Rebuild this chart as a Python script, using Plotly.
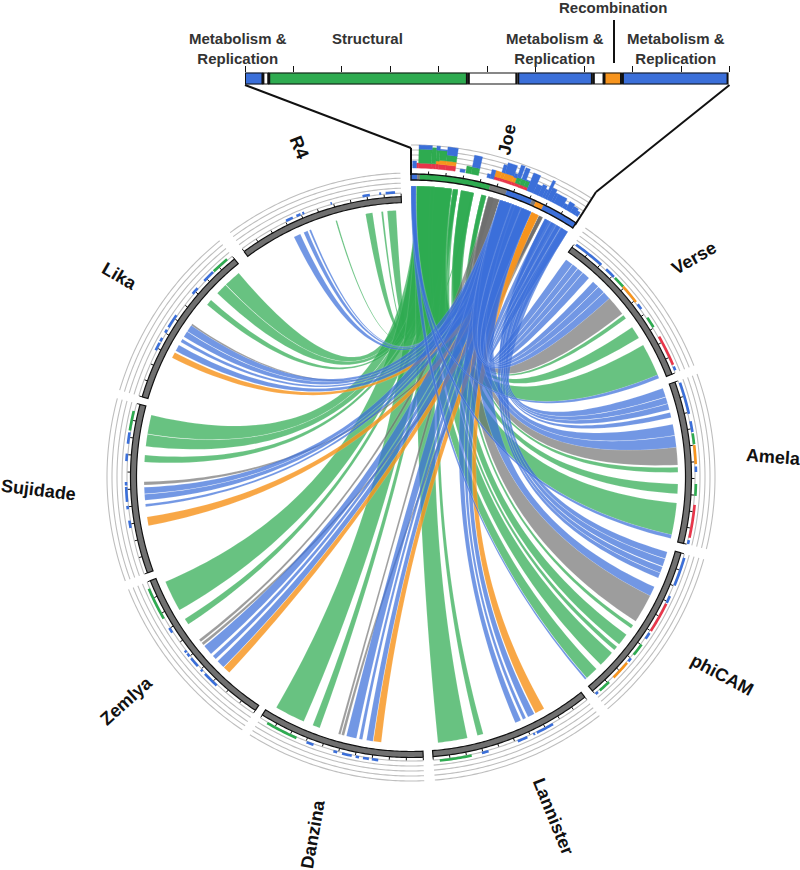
import numpy as np
import plotly.graph_objects as go

# ---------- data: everything on the circular map is in map degrees (clockwise from top) ----------
sector_names = ["Joe", "Verse", "Amela", "phiCAM", "Lannister", "Danzina", "Zemlya", "Sujidade", "Lika", "R4"]
sector_start = [0.0, 35.0, 70.2, 105.7, 141.7, 177.5, 213.7, 250.0, 286.6, 323.5]
sector_end = [33.0, 68.5, 103.7, 139.7, 175.5, 212.0, 248.3, 285.0, 321.0, 358.0]

# ribbons: (target start, target end, Joe start, Joe end, category)
verse_ribbons = [(35.5,37.2,31,32.6,"b"),(37.3,38.6,30,30.9,"b"),(38.7,40,28.8,29.9,"b"),(40.1,41.8,27.4,28.7,"b"),
                 (43,44.5,22.3,24.4,"b"),(44.6,46.2,20.3,22.2,"b"),(46.3,48,17.8,20.2,"b"),(48,52.3,15.4,17.7,"k"),
                 (52.7,53.6,14,15,"g"),(55.9,58.6,9.9,12.5,"g"),(60.4,67.5,1.1,8.1,"g"),(67.5,68.3,0,1,"b")]
amela_ribbons = [(70.6,72.5,31,32.6,"b"),(72.6,74,29.6,30.9,"b"),(74.1,75.4,28.4,29.5,"b"),(76,77.1,27.4,28.3,"b"),
                 (78.6,81,21,24.4,"b"),(81.1,83.6,17.8,20.9,"b"),(83.6,87.4,15.4,17.7,"k"),(87.9,89,14,15,"g"),
                 (91.5,93.6,9.9,12.5,"g"),(95.6,102.5,1.1,8.1,"g"),(102.5,103.3,0,1,"b")]
phicam_ribbons = [(106.3,107.8,31.2,32.6,"b"),(107.9,109.5,29.8,31.1,"b"),(109.7,111,28.6,29.7,"b"),(111.1,112.2,27.4,28.5,"b"),
                  (114.3,116.4,17.8,24.4,"b"),(116.4,122.7,15.4,17.7,"k"),(123.7,124.5,14,15,"g"),(126.2,128.8,9.9,12.5,"g"),
                  (129.5,130.4,8.3,9.3,"g"),(131.2,134.7,4.6,8.1,"g"),(136,138.8,1.1,3.9,"g"),(138.9,139.3,0,1,"b")]
lannister_ribbons = [(150.1,152.2,24.4,26,"o"),(152.5,154,22.4,24.4,"b"),(154.5,155.2,20.6,22.3,"b"),(155.7,157,17.8,20.5,"b"),
                     (164.3,165.6,8.3,9.3,"g"),(167.8,174.2,1.1,8.1,"g")]
danzina_ribbons = [(186.4,188.1,24.4,26,"o"),(188.2,189.6,22.5,24.4,"b"),(190.5,191.2,21,22.4,"b"),(191.8,194,17.8,20.9,"b"),
                   (194.5,195.1,26.1,26.9,"k"),(195.3,195.8,15.6,16.6,"k"),(200,201.6,8.3,9.3,"g"),(203.7,210.3,1.1,8.1,"g")]
zemlya_ribbons = [(222.9,224.5,24.4,26,"o"),(224.6,226.4,22.5,24.4,"b"),(227,227.9,21,22.4,"b"),(228.5,230.7,17.8,20.9,"b"),
                  (231,231.6,26.1,26.9,"k"),(231.9,232.5,15.6,16.6,"k"),(236.5,237.9,8.3,9.3,"g"),(240.1,246.9,1.1,8.1,"g")]
sujidade_ribbons = [(259.5,261.4,24.4,26,"o"),(263.6,264.2,21,22.4,"b"),(265,266.3,20,20.9,"b"),(266.4,267.8,17.8,19.9,"b"),
                    (268.3,269,26.1,26.9,"k"),(273.2,274.7,8.3,9.3,"g"),(276.6,279.2,5.4,8.1,"g"),(279.3,283.4,1.1,5.3,"g")]
lika_ribbons = [(296.5,297.8,24.4,26,"o"),(298.2,299.6,22.5,24.4,"b"),(300.4,301.1,21,22.4,"b"),(301.7,303,19.5,20.9,"b"),
                (303.1,304.6,17.8,19.4,"b"),(304.6,305,26.1,26.9,"k"),(310.2,311.5,8.3,9.3,"g"),(313.5,316,5.5,8.1,"g"),(316.1,319.8,1.1,5.4,"g")]
r4_ribbons = [(334,335.5,20.6,22,"b"),(336.3,337.2,19,20,"b"),(337.6,338,18.2,18.7,"b"),(343.6,343.9,12,12.3,"g"),
              (350.2,351.7,6.3,8,"g"),(353.6,354,5,5.4,"g"),(354.9,356.8,2,4.2,"g")]

# annotation track of the nine compared genomes: (start, end, category)
track_segments = [
    (35.4,41.9,"b"),(43.2,45.4,"b"),(45.7,48.1,"g"),(48.1,52.1,"o"),(52.7,53.9,"b"),(56,58.3,"g"),(60.5,66.8,"r"),(67.2,68,"b"),
    (70.7,77.2,"b"),(78.7,80.9,"b"),(81.2,83.4,"g"),(83.6,87.4,"o"),(87.9,89,"b"),(91.4,93.8,"g"),(95.6,102.3,"r"),(102.8,103.6,"b"),
    (106.5,112.4,"b"),(114.7,116.2,"b"),(116.4,122.7,"r"),(123.2,124.6,"b"),(126,128.6,"g"),(129.5,130.3,"b"),(130.7,134.7,"o"),(136,138.5,"g"),(139,139.6,"b"),
    (150.1,153.8,"b"),(154.2,154.6,"b"),(155.9,158,"b"),(164.2,165.6,"b"),(167.7,174.2,"g"),
    (186.6,187.9,"b"),(188.5,189.7,"b"),(190.5,191.2,"b"),(192,194,"b"),(195,195.8,"b"),(200,201.5,"b"),(203.7,210.3,"g"),
    (223,226.3,"b"),(227,227.5,"b"),(228.4,230.5,"b"),(231,231.7,"b"),(232,232.5,"b"),(236.9,238,"b"),(240.2,246.9,"g"),
    (259.7,261.2,"b"),(263.5,264.2,"b"),(265,268,"b"),(268.3,269,"b"),(273.2,274.7,"b"),(276.7,279,"b"),(279.4,283.4,"g"),
    (296.4,298.1,"b"),(298.4,299.2,"b"),(300.4,301.1,"b"),(301.7,304.6,"b"),(310,311.5,"b"),(313.5,316,"b"),(316.2,319.8,"g"),
    (334,335.5,"b"),(336.3,337.2,"b"),(337.6,338,"b"),(343.6,343.9,"b"),(350.2,351.7,"b"),(353.6,354,"b"),(354.9,356.8,"b"),
]

# Joe ring segments
joe_ring = [(0,1.2,"b"),(1.2,1.7,"k"),(1.7,15.2,"g"),(15.2,18.5,"k"),(18.5,23.6,"b"),(23.6,24.4,"k"),(24.4,26,"o"),(26,33,"b")]

# Joe stacked histogram
joe_bin_start = [0.3,1.0,1.4,3.7,4.5,5.1,6.4,9.1,10.2,11.2,14.2,14.8,15.5,16.6,17.2,18.9,19.5,20.2,20.4,21.2,22,23.3,24.3,25.1,25.6,26.1,27,27.5,29.3,30,31,32]
joe_bin_end   = [1.0,1.4,3.7,4.5,5.1,6.4,8.2,10.0,11.2,12.6,14.8,15.5,16.6,17.2,18.9,19.5,20.2,20.4,21.2,22,23.3,24.3,25.1,25.6,26.1,27,27.5,29.3,30,31,32,32.6]
joe_red    = [0,5,5,5,5,5,5,0,0,0,0,0,3,3,3,3,3,3,3,3,0,0,0,0,0,0,0,0,0,0,0,0]
joe_orange = [0,0,0,0,3,4,4,0,0,0,0,0,6,6,6,5,0,0,0,0,0,0,0,0,0,0,0,0,0,0,0,0]
joe_green  = [0,0,14,16,11,10,6,0,7,7,0,0,0,0,0,0,6,6,6,6,0,0,0,0,0,0,0,0,0,0,0,0]
joe_blue   = [7,0,4,0,4,1,8,3,0,12,4,9,0,8,11,4,13,0,12,1,19,10,12,9,20,13,10,10,5,9,7,5]

# linear Joe map on top (kb)
bar_start = [0,1.9,2.5,23.1,28.2,36,37.1,39]
bar_end = [1.8,2.4,22.9,28,35.8,37,38.8,49.8]
bar_cat = ["b","w","g","w","b","w","o","b"]

solid = {"b":"#3B6FD9","g":"#2EAB50","o":"#F7941D","r":"#E8364A","k":"#7A7A7A","w":"#FFFFFF"}
ribbon_fill = {"b":"rgba(59,111,217,0.72)","g":"rgba(46,171,80,0.72)","o":"rgba(247,148,29,0.82)","k":"rgba(110,110,110,0.68)"}

# radii on the radial axis
R_RIB, R_IN, R_OUT, R_JRIB, R_JIN, R_JOUT = 267, 274.5, 280.5, 291, 297, 303
RINGS = [284, 289, 294, 299, 304]
R_TRACK = 285
J_BASE = 309
CX, CY, RMAX = 411, 477, 340
W, H = 800, 870


def arc(a, b, r, n=None):
    n = n or max(2, int(abs(b - a) * 2) + 2)
    t = np.linspace(a, b, n)
    return np.full(n, float(r)), t


def bezier(r0, t0, r1, t1, n=70):
    p0 = r0 * np.array([np.sin(np.radians(t0)), np.cos(np.radians(t0))])
    p1 = r1 * np.array([np.sin(np.radians(t1)), np.cos(np.radians(t1))])
    s = np.linspace(0, 1, n)[1:-1]
    x = (1 - s) ** 2 * p0[0] + s ** 2 * p1[0]
    y = (1 - s) ** 2 * p0[1] + s ** 2 * p1[1]
    return np.hypot(x, y), np.degrees(np.arctan2(x, y))


def ribbon(t0, t1, j0, j1):
    a = arc(t0, t1, R_RIB)
    b = bezier(R_RIB, t1, R_JRIB, j0)
    c = arc(j0, j1, R_JRIB)
    d = bezier(R_JRIB, j1, R_RIB, t0)
    return (np.concatenate([a[0], b[0], c[0], d[0], a[0][:1]]),
            np.concatenate([a[1], b[1], c[1], d[1], a[1][:1]]))


def band(a, b, r0, r1):
    oa = arc(a, b, r1)
    ib = arc(b, a, r0)
    return (np.concatenate([oa[0], ib[0], oa[0][:1]]), np.concatenate([oa[1], ib[1], oa[1][:1]]))


def lines_trace(rs, ts, color, width):
    return go.Scatterpolar(r=rs, theta=ts, mode="lines", line=dict(color=color, width=width),
                           hoverinfo="skip", showlegend=False, subplot="polar")


def fill_trace(rt, fill, line_color, line_w):
    return go.Scatterpolar(r=rt[0], theta=rt[1], mode="lines", fill="toself", fillcolor=fill,
                           line=dict(color=line_color, width=line_w), hoverinfo="skip",
                           showlegend=False, subplot="polar")


fig = go.Figure()

# ribbons: green below, then grey, orange, blue
all_ribbons = r4_ribbons + lika_ribbons + sujidade_ribbons + zemlya_ribbons + danzina_ribbons + lannister_ribbons + phicam_ribbons + amela_ribbons + verse_ribbons
for want in "gkob":
    for t0, t1, j0, j1, cat in all_ribbons:
        if cat == want:
            fig.add_trace(fill_trace(ribbon(t0, t1, j0, j1), ribbon_fill[cat], "rgba(255,255,255,0.3)", 0.4))

# concentric rings
rs, ts = [], []
for i, (a, b) in enumerate(zip(sector_start, sector_end)):
    for r in RINGS:
        rr = r + 28 if i == 0 else r
        ra, ta = arc(a, b, rr)
        rs += list(ra) + [None]
        ts += list(ta) + [None]
fig.add_trace(lines_trace(rs, ts, "#BEBEBE", 1.1))

# annotation tracks
for cat in "bgor":
    rs, ts = [], []
    for a, b, c in track_segments:
        if c == cat:
            ra, ta = arc(a, b, R_TRACK)
            rs += list(ra) + [None]
            ts += list(ta) + [None]
    fig.add_trace(lines_trace(rs, ts, solid[cat], 2.6))

# Joe histogram
cum = np.zeros(len(joe_bin_start))
for cat, vals in (("r", joe_red), ("o", joe_orange), ("g", joe_green), ("b", joe_blue)):
    for a, b, base, v in zip(joe_bin_start, joe_bin_end, cum, vals):
        if v > 0:
            fig.add_trace(fill_trace(band(a, b, J_BASE + base, J_BASE + base + v), solid[cat], solid[cat], 0.4))
    cum = cum + np.array(vals)

# dark rings for nine genomes
for a, b in zip(sector_start[1:], sector_end[1:]):
    fig.add_trace(fill_trace(band(a, b, R_IN, R_OUT), "#707070", "#111111", 1.2))

# Joe coloured ring
for a, b, c in joe_ring:
    fig.add_trace(fill_trace(band(a, b, R_JIN, R_JOUT), solid[c], solid[c], 0.3))
fig.add_trace(fill_trace(band(0, 33, R_JIN, R_JOUT), "rgba(0,0,0,0)", "#111111", 1.4))

# ticks
rs, ts = [], []
for i, (a, b) in enumerate(zip(sector_start, sector_end)):
    top = R_JOUT if i == 0 else R_OUT
    for t in np.linspace(a, b, 11):
        rs += [top, top + 3, None]
        ts += [t, t, None]
fig.add_trace(lines_trace(rs, ts, "#111111", 1))

# linear Joe map
for s, e, c in zip(bar_start, bar_end, bar_cat):
    fig.add_trace(go.Bar(x=[e - s], base=[s], y=[0], orientation="h", width=1,
                         marker=dict(color=solid[c], line=dict(color="#111111", width=2)),
                         xaxis="x", yaxis="y", hoverinfo="skip", showlegend=False))

# labels
name_pos = {"Joe": (507, 140, -78), "R4": (299, 147, 68), "Verse": (694, 258, -30), "Amela": (773, 457, 4),
            "phiCAM": (722, 675, 28), "Lannister": (553, 816, 68), "Danzina": (313, 834, -80),
            "Zemlya": (126, 701, -42), "Sujidade": (38, 490, 7), "Lika": (119, 276, 30)}
ann = []
for name in sector_names:
    x, y, ang = name_pos[name]
    ann.append(dict(x=x / W, y=1 - y / H, xref="paper", yref="paper", text=f"<b>{name}</b>", showarrow=False,
                    textangle=ang, font=dict(family="Liberation Sans", size=18, color="#111111"),
                    xanchor="center", yanchor="middle"))
bar_labels = [("Metabolism &<br>Replication", 238, 48), ("Structural", 367, 39), ("Metabolism &<br>Replication", 555, 48),
              ("Metabolism &<br>Replication", 676, 48), ("Recombination", 613, 8)]
for txt, x, y in bar_labels:
    ann.append(dict(x=x / W, y=1 - y / H, xref="paper", yref="paper", text=f"<b>{txt}</b>", showarrow=False,
                    font=dict(family="Liberation Sans", size=15, color="#333333"), xanchor="center", yanchor="middle"))

conn = [[(245, 85), (411, 148), (411, 175)], [(729.5, 85), (596, 192), (575, 225)], [(614, 20), (614, 63)]]
shapes = []
for path in conn:
    for (x0, y0), (x1, y1) in zip(path[:-1], path[1:]):
        shapes.append(dict(type="line", xref="paper", yref="paper", x0=x0 / W, y0=1 - y0 / H, x1=x1 / W, y1=1 - y1 / H,
                           line=dict(color="#111111", width=2)))

fig.update_layout(
    width=W, height=H, margin=dict(l=0, r=0, t=0, b=0), paper_bgcolor="white", plot_bgcolor="white",
    showlegend=False, annotations=ann, shapes=shapes, barmode="overlay",
    polar=dict(domain=dict(x=[(CX - RMAX) / W, (CX + RMAX) / W], y=[1 - (CY + RMAX) / H, 1 - (CY - RMAX) / H]),
               bgcolor="rgba(0,0,0,0)",
               radialaxis=dict(visible=False, range=[0, RMAX]),
               angularaxis=dict(visible=False, rotation=90, direction="clockwise")),
    xaxis=dict(domain=[245 / W, 729.5 / W], range=[0, 50], side="top", anchor="y", showgrid=False, zeroline=False,
               showticklabels=False, ticks="outside", ticklen=6, tickwidth=1.2, tickcolor="#111111", dtick=5, tick0=0,
               showline=False),
    yaxis=dict(domain=[1 - 84.5 / H, 1 - 72.5 / H], range=[-0.5, 0.5], anchor="x", visible=False),
)

fig.write_html("out.html", config={"displayModeBar": False}, post_script="document.body.style.margin='0';")
